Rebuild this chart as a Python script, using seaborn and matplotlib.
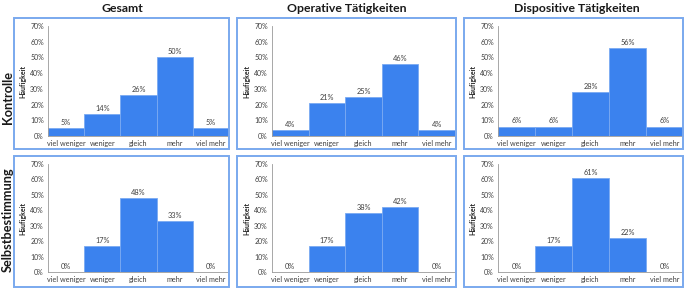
import matplotlib
matplotlib.use("Agg")
import matplotlib.pyplot as plt
from matplotlib.patches import Rectangle
import seaborn as sns

# categories and values (percent)
categories = ['viel weniger', 'weniger', 'gleich', 'mehr', 'viel mehr']
columns = ['Gesamt', 'Operative Tätigkeiten', 'Dispositive Tätigkeiten']
rows = ['Kontrolle', 'Selbstbestimmung']

kontrolle_gesamt = [5, 14, 26, 50, 5]
kontrolle_operativ = [4, 21, 25, 46, 4]
kontrolle_dispositiv = [6, 6, 28, 56, 6]
selbst_gesamt = [0, 17, 48, 33, 0]
selbst_operativ = [0, 17, 38, 42, 0]
selbst_dispositiv = [0, 17, 61, 22, 0]

data = [[kontrolle_gesamt, kontrolle_operativ, kontrolle_dispositiv],
        [selbst_gesamt, selbst_operativ, selbst_dispositiv]]

y_ticks = [0, 10, 20, 30, 40, 50, 60, 70]

sns.set_style("white")
plt.rcParams['font.family'] = ['Lato', 'DejaVu Sans']

W, H = 685, 289
fig = plt.figure(figsize=(W / 100, H / 100), dpi=100)

bar_color = '#3b82ee'
edge_color = '#7aaaf2'
frame_color = '#7aa9ee'
text_gray = '#404040'

# pixel layouts
panel_x = [(14, 229), (237, 456), (464, 683)]
panel_y = [(18, 149), (156, 287)]
axes_left = [48, 272, 498]
axes_right = [229, 455, 683]
axes_y = [(26, 136), (164, 272)]

for r in range(2):
    for c in range(3):
        px0, px1 = panel_x[c]
        py0, py1 = panel_y[r]
        fig.patches.append(Rectangle((px0 / W, 1 - py1 / H), (px1 - px0) / W, (py1 - py0) / H,
                                     transform=fig.transFigure, fill=False,
                                     edgecolor=frame_color, linewidth=1.4))
        ay0, ay1 = axes_y[r]
        ax = fig.add_axes([axes_left[c] / W, 1 - ay1 / H,
                           (axes_right[c] - axes_left[c]) / W, (ay1 - ay0) / H])
        ax.patch.set_alpha(0)
        vals = data[r][c]
        sns.barplot(x=categories, y=vals, ax=ax, color=bar_color, width=1,
                    saturation=1, edgecolor=edge_color, linewidth=0.6, order=categories)
        ax.bar_label(ax.containers[0], labels=[f"{v}%" for v in vals],
                     padding=1.5, fontsize=5.3, color=text_gray)
        ax.set_xlim(-0.5, 4.5)
        ax.set_ylim(0, 70)
        ax.set_yticks(y_ticks)
        ax.set_yticklabels([f"{t}%" for t in y_ticks], fontsize=5, color=text_gray)
        ax.set_xticks(range(5))
        ax.set_xticklabels(categories, fontsize=5.2, color=text_gray)
        ax.set_xticks([i - 0.5 for i in range(6)], minor=True)
        ax.tick_params(axis='x', which='major', length=0, pad=3)
        ax.tick_params(axis='x', which='minor', length=3, width=0.6, color='#888888')
        ax.tick_params(axis='y', length=2, width=0.6, color='#888888', pad=1)
        ax.set_ylabel('Häufigkeit', fontsize=5, fontweight='bold', labelpad=3)
        ax.set_xlabel('')
        for s in ['top', 'right']:
            ax.spines[s].set_visible(False)
        for s in ['left', 'bottom']:
            ax.spines[s].set_color('#999999')
            ax.spines[s].set_linewidth(0.6)

# column titles
title_x = [122, 347, 577]
for c, t in enumerate(columns):
    fig.text(title_x[c] / W, 1 - 8 / H, t, ha='center', va='center',
             fontsize=8.8, fontweight='bold', color='#1a1a1a')

# row labels
row_y = [97, 220]
for r, t in enumerate(rows):
    fig.text(8 / W, 1 - row_y[r] / H, t, ha='center', va='center', rotation=90,
             fontsize=9.2, fontweight='bold', color='#1a1a1a')

fig.savefig('out.png', dpi=100)
